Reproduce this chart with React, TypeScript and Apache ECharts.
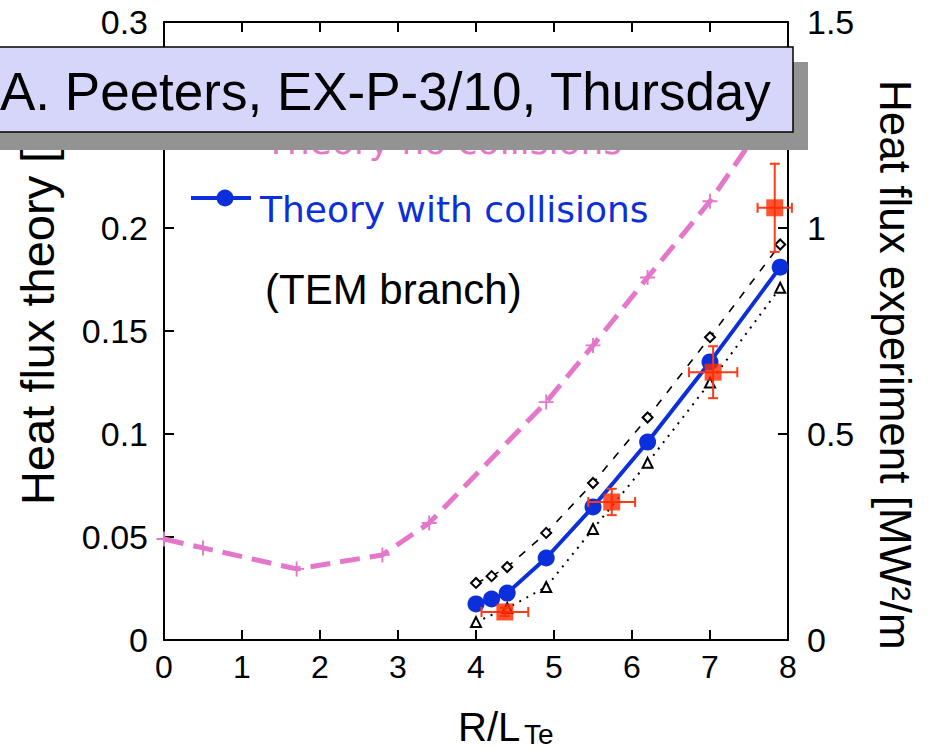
import React, { useEffect, useRef } from "react";
import * as echarts from "echarts";

// R/L_Te positions and heat flux values
const noCollX = [0, 0.5, 1.7, 2.8, 3.4, 4.9, 5.5, 6.2, 7.0, 7.8];
const noCollY = [0.049, 0.0447, 0.0345, 0.0413, 0.0568, 0.1155, 0.143, 0.176, 0.213, 0.257];

const withCollX = [4.0, 4.2, 4.4, 4.9, 5.5, 6.2, 7.0, 7.9];
const withCollY = [0.0175, 0.0199, 0.0228, 0.0398, 0.0646, 0.0961, 0.135, 0.181];

const upperX = [4.0, 4.2, 4.4, 4.9, 5.5, 6.2, 7.0, 7.9];
const upperY = [0.0277, 0.031, 0.0354, 0.052, 0.0762, 0.108, 0.147, 0.192];

const lowerX = [4.0, 4.4, 4.9, 5.5, 6.2, 7.0, 7.9];
const lowerY = [0.0087, 0.0155, 0.0257, 0.0539, 0.086, 0.125, 0.171];

// experiment (right axis, MW/m^2)
const expX = [4.37, 5.74, 7.04, 7.83];
const expY = [0.068, 0.335, 0.65, 1.049];
const expXErr = [0.3, 0.3, 0.31, 0.22];
const expYErr = [0.01, 0.032, 0.063, 0.107];

const bannerText = "A. Peeters, EX-P-3/10, Thursday";
const legendNo = "Theory no collisions";
const legendWith = "Theory with collisions";
const noteText = "(TEM branch)";
const yLeftName = "Heat flux theory [";
const yRightName = "Heat flux experiment [MW²/m";

const PINK = "#e477c9";
const BLUE = "#0b2fdb";
const RED = "#ff2a00";
const FONT = "Liberation Sans, Arial, sans-serif";
const LFONT = "DejaVu Sans, Verdana, sans-serif";

const zip = (xs: number[], ys: number[]) => xs.map((x, i) => [x, ys[i]]);

const PLUS = "path://M7,0H9V7H16V9H9V16H7V9H0V7H7Z";

export default function App() {
  const ref = useRef<HTMLDivElement>(null);

  useEffect(() => {
    if (!ref.current) return;
    const chart = echarts.init(ref.current, undefined, { renderer: "svg" });

    const axisLine = { show: true, onZero: false, lineStyle: { color: "#000", width: 2 } };
    const axisTick = { show: true, inside: true, length: 10, lineStyle: { color: "#000", width: 2 } };

    const option: any = {
      animation: false,
      backgroundColor: "#fff",
      grid: { left: 164, top: 22, width: 624, height: 618, containLabel: false },
      xAxis: [
        {
          type: "value", position: "bottom", min: 0, max: 8, interval: 1,
          axisLine, axisTick,
          splitLine: { show: false },
          axisLabel: { fontSize: 32, color: "#000", fontFamily: FONT, margin: 11 },
        },
        {
          type: "value", position: "top", min: 0, max: 8, interval: 1,
          axisLine, axisTick,
          splitLine: { show: false },
          axisLabel: { show: false },
        },
      ],
      yAxis: [
        {
          type: "value", position: "left", min: 0, max: 0.3, interval: 0.05,
          axisLine, axisTick,
          splitLine: { show: false },
          axisLabel: {
            fontSize: 34, color: "#000", fontFamily: FONT, margin: 16,
            // the 0.25 label lies under the banner in the reference
            formatter: (v: number) => (Math.abs(v - 0.25) < 1e-9 ? "" : String(+v.toFixed(2))),
          },
        },
        {
          type: "value", position: "right", min: 0, max: 1.5, interval: 0.5,
          axisLine, axisTick,
          splitLine: { show: false },
          axisLabel: { fontSize: 34, color: "#000", fontFamily: FONT, margin: 19 },
        },
      ],
      series: [
        {
          name: legendNo, type: "line", xAxisIndex: 0, yAxisIndex: 0,
          data: zip(noCollX, noCollY),
          lineStyle: { color: PINK, width: 5, type: [20, 10] },
          symbol: PLUS, symbolSize: 15,
          itemStyle: { color: PINK },
          z: 3,
        },
        {
          name: "upper", type: "line", xAxisIndex: 0, yAxisIndex: 0,
          data: zip(upperX, upperY),
          lineStyle: { color: "#000", width: 1.6, type: [8, 9] },
          symbol: "diamond", symbolSize: 10,
          itemStyle: { color: "#fff", borderColor: "#000", borderWidth: 2 },
          z: 4,
        },
        {
          name: "lower", type: "line", xAxisIndex: 0, yAxisIndex: 0,
          data: zip(lowerX, lowerY),
          lineStyle: { color: "#000", width: 2, type: [2, 6] },
          symbol: "triangle", symbolSize: 10,
          itemStyle: { color: "#fff", borderColor: "#000", borderWidth: 2 },
          z: 4,
        },
        {
          name: legendWith, type: "line", xAxisIndex: 0, yAxisIndex: 0,
          data: zip(withCollX, withCollY),
          lineStyle: { color: BLUE, width: 4 },
          symbol: "circle", symbolSize: 17,
          itemStyle: { color: BLUE },
          z: 5,
        },
        {
          name: "errors", type: "custom", xAxisIndex: 0, yAxisIndex: 1,
          data: expX.map((x, i) => [x, expY[i], expXErr[i], expYErr[i]]),
          encode: { x: 0, y: 1 },
          z: 6,
          renderItem: (params: any, api: any) => {
            const x = api.value(0), y = api.value(1), ex = api.value(2), ey = api.value(3);
            const l = api.coord([x - ex, y]);
            const r = api.coord([x + ex, y]);
            const t = api.coord([x, y + ey]);
            const b = api.coord([x, y - ey]);
            const style = { stroke: "#ff3a14", lineWidth: 2 };
            const c = 5;
            return {
              type: "group",
              children: [
                { type: "line", shape: { x1: l[0], y1: l[1], x2: r[0], y2: r[1] }, style },
                { type: "line", shape: { x1: l[0], y1: l[1] - c, x2: l[0], y2: l[1] + c }, style },
                { type: "line", shape: { x1: r[0], y1: r[1] - c, x2: r[0], y2: r[1] + c }, style },
                { type: "line", shape: { x1: t[0], y1: t[1], x2: b[0], y2: b[1] }, style },
                { type: "line", shape: { x1: t[0] - c, y1: t[1], x2: t[0] + c, y2: t[1] }, style },
                { type: "line", shape: { x1: b[0] - c, y1: b[1], x2: b[0] + c, y2: b[1] }, style },
              ],
            };
          },
        },
        {
          name: "Experiment", type: "scatter", xAxisIndex: 0, yAxisIndex: 1,
          data: zip(expX, expY),
          symbol: "rect", symbolSize: 17,
          itemStyle: { color: RED },
          z: 7,
        },
      ],
      graphic: [
        // legend
        { type: "line", z: 50, shape: { x1: 191, y1: 129, x2: 251, y2: 129 }, style: { stroke: PINK, lineWidth: 5, lineDash: [20, 10] } },
        { type: "text", z: 50, x: 265, y: 141, style: { text: legendNo, fontSize: 36, fontFamily: LFONT, fill: PINK, align: "left", verticalAlign: "middle" } },
        { type: "line", z: 50, shape: { x1: 191, y1: 198, x2: 251, y2: 198 }, style: { stroke: BLUE, lineWidth: 4 } },
        { type: "circle", z: 50, shape: { cx: 225, cy: 198, r: 8.5 }, style: { fill: BLUE } },
        { type: "text", z: 50, x: 260, y: 209, style: { text: legendWith, fontSize: 36, fontFamily: LFONT, fill: BLUE, align: "left", verticalAlign: "middle" } },
        { type: "text", z: 50, x: 265, y: 289, style: { text: noteText, fontSize: 42, fontFamily: FONT, fill: "#000", align: "left", verticalAlign: "middle" } },
        // axis names
        { type: "text", z: 50, x: 37, y: 505, rotation: Math.PI / 2, style: { text: yLeftName, fontSize: 47, fontFamily: FONT, fill: "#000", align: "left", verticalAlign: "middle" } },
        { type: "text", z: 50, x: 895, y: 80, rotation: -Math.PI / 2, style: { text: yRightName, fontSize: 44, fontFamily: FONT, fill: "#000", align: "left", verticalAlign: "middle" } },
        { type: "text", z: 50, x: 458, y: 727, style: { text: "R/L", fontSize: 40, fontFamily: FONT, fill: "#000", align: "left", verticalAlign: "middle" } },
        { type: "text", z: 50, x: 524, y: 734, style: { text: "Te", fontSize: 28, fontFamily: FONT, fill: "#000", align: "left", verticalAlign: "middle" } },
        // banner
        { type: "rect", z: 90, shape: { x: -5, y: 62, width: 813, height: 88 }, style: { fill: "#939393" } },
        { type: "rect", z: 91, shape: { x: -5, y: 47, width: 798, height: 85 }, style: { fill: "#d6d6fb", stroke: "#000", lineWidth: 1.5 } },
        { type: "text", z: 92, x: 0, y: 91, style: { text: bannerText, fontSize: 53, fontFamily: FONT, fill: "#000", align: "left", verticalAlign: "middle" } },
      ],
    };

    chart.setOption(option);
    return () => chart.dispose();
  }, []);

  return (
    <div
      ref={ref}
      style={{ position: "fixed", left: 0, top: 0, width: 928, height: 749, background: "#fff" }}
    />
  );
}
